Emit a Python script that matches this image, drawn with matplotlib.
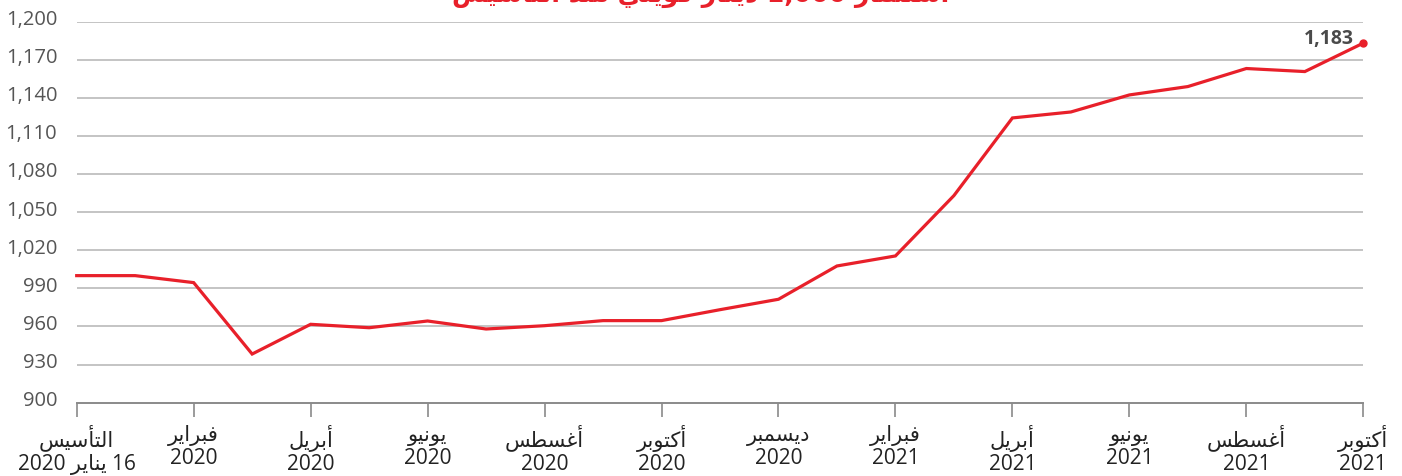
import matplotlib
matplotlib.use("Agg")
import matplotlib.pyplot as plt
from matplotlib.transforms import ScaledTranslation

# ---------------- data ----------------
values = [1000, 1000, 994.5, 938.3, 961.7, 959.0, 964.3, 958.0, 960.6, 964.6, 964.6,
          973.2, 981.4, 1007.6, 1015.5, 1063.0, 1124.1, 1128.8, 1142.2, 1148.8, 1163.0,
          1160.6, 1183.0]
tick_months = ["التأسيس", "فبراير", "أبريل", "يونيو", "أغسطس", "أكتوبر",
               "ديسمبر", "فبراير", "أبريل", "يونيو", "أغسطس", "أكتوبر"]
tick_years = ["16 يناير 2020", "2020", "2020", "2020", "2020", "2020",
              "2020", "2021", "2021", "2021", "2021", "2021"]
y_ticks = [900, 930, 960, 990, 1020, 1050, 1080, 1110, 1140, 1170, 1200]
title_text = "استثمار 1,000 دينار كويتي منذ التأسيس"
end_label = "1,183"

# ------------- Arabic shaping helper (presentation forms + visual order) -------------
_order = [("ء", 1), ("آ", 2), ("أ", 2), ("ؤ", 2), ("إ", 2), ("ئ", 4), ("ا", 2), ("ب", 4),
          ("ة", 2), ("ت", 4), ("ث", 4), ("ج", 4), ("ح", 4), ("خ", 4), ("د", 2), ("ذ", 2),
          ("ر", 2), ("ز", 2), ("س", 4), ("ش", 4), ("ص", 4), ("ض", 4), ("ط", 4), ("ظ", 4),
          ("ع", 4), ("غ", 4), ("ف", 4), ("ق", 4), ("ك", 4), ("ل", 4), ("م", 4), ("ن", 4),
          ("ه", 4), ("و", 2), ("ى", 2), ("ي", 4)]
FORMS = {}
_c = 0xFE80
for ch, n in _order:
    FORMS[ch] = [chr(_c + k) for k in range(n)]
    _c += n
LAMALEF = {"آ": (0xFEF5, 0xFEF6), "أ": (0xFEF7, 0xFEF8), "إ": (0xFEF9, 0xFEFA), "ا": (0xFEFB, 0xFEFC)}


def _shape_word(w):
    chars = list(w)
    out = []
    i = 0
    while i < len(chars):
        ch = chars[i]
        if ch not in FORMS:
            out.append(ch)
            i += 1
            continue
        prev = chars[i - 1] if i > 0 else None
        prev_joins = prev is not None and prev in FORMS and len(FORMS[prev]) == 4
        if ch == "ل" and i + 1 < len(chars) and chars[i + 1] in LAMALEF:
            iso, fin = LAMALEF[chars[i + 1]]
            out.append(chr(fin if prev_joins else iso))
            i += 2
            continue
        nxt = chars[i + 1] if i + 1 < len(chars) else None
        forms = FORMS[ch]
        next_joins = len(forms) == 4 and nxt is not None and nxt in FORMS and nxt != "ء"
        if prev_joins and next_joins:
            out.append(forms[3])
        elif prev_joins and len(forms) > 1:
            out.append(forms[1])
        elif next_joins:
            out.append(forms[2])
        else:
            out.append(forms[0])
        i += 1
    return "".join(out)


def ar(s):
    toks = s.split(" ")
    vis = []
    for t in reversed(toks):
        if any(c in FORMS for c in t):
            vis.append(_shape_word(t)[::-1])
        else:
            vis.append(t)
    return " ".join(vis)


# ---------------- figure ----------------
plt.rcParams["font.family"] = ["Open Sans", "DejaVu Sans"]
fig = plt.figure(figsize=(14.02, 4.77), dpi=100)
ax = fig.add_axes([76.7 / 1402, 73.3 / 477, (1363.3 - 76.7) / 1402, (454.5 - 73.3) / 477])

x = list(range(len(values)))
red = "#e8202a"
ax.plot(x, values, color=red, lw=2.3, solid_joinstyle="miter", zorder=3, clip_on=False)
ax.plot([x[-1]], [values[-1]], "o", color=red, ms=5, zorder=4, clip_on=False)

ax.set_xlim(0, len(values) - 1)
ax.set_ylim(900, 1200)
ax.set_yticks(y_ticks)
ax.set_yticklabels([f"{v:,}" for v in y_ticks])
for v in y_ticks[1:]:
    ax.axhline(v, color="#b4b4b4", lw=1.1, zorder=1)

for s in ["top", "right", "left"]:
    ax.spines[s].set_visible(False)
ax.spines["bottom"].set_color("#8a8a8a")
ax.spines["bottom"].set_linewidth(1.4)

ax.tick_params(axis="y", length=0, pad=14, labelsize=14.5, labelcolor="#555555")
for lab in ax.get_yticklabels():
    lab.set_transform(lab.get_transform() + ScaledTranslation(0, 5 / 100, fig.dpi_scale_trans))

tick_pos = x[::2]
ax.set_xticks(tick_pos)
ax.set_xticklabels([ar(m) + "\n" + ar(yv) for m, yv in zip(tick_months, tick_years)],
                   linespacing=1.18)
ax.tick_params(axis="x", length=10, width=1.2, color="#8a8a8a", pad=5,
               labelsize=15, labelcolor="#222222")

ax.annotate(end_label, (x[-1], values[-1]), xytext=(-7, 4), textcoords="offset points",
            ha="right", va="center", fontsize=14, fontweight="bold", color="#4a4a4a")

fig.text(0.5, 1 - 2 / 477, ar(title_text), ha="center", va="baseline",
         fontsize=18, fontweight="bold", color=red, family=["DejaVu Sans"])

fig.savefig("out.png", dpi=100, facecolor="white")
